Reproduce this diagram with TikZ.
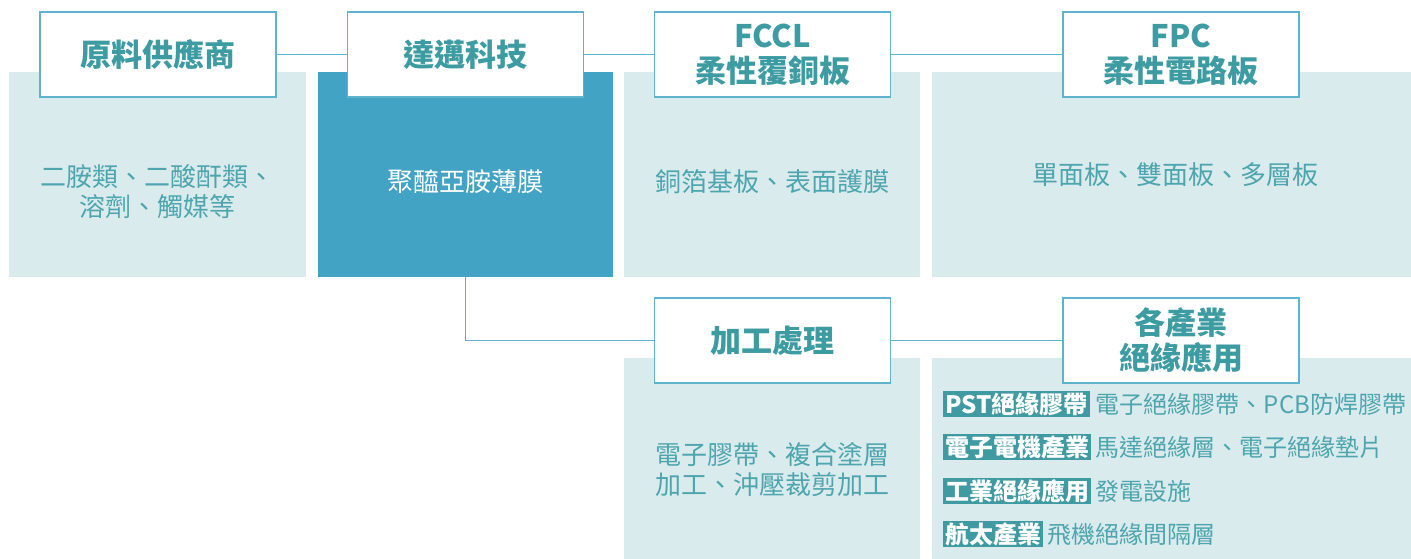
\documentclass[tikz,border=0pt]{standalone}
\usepackage{fontspec}
\setmainfont{Noto Sans CJK TC}
\usetikzlibrary{positioning}

\definecolor{paleteal}{HTML}{D9EBED}
\definecolor{deepblue}{HTML}{43A3C4}
\definecolor{lineblue}{HTML}{5FB3CC}
\definecolor{titleteal}{HTML}{3D9BA2}
\definecolor{bodyteal}{HTML}{4EA5AD}
\definecolor{tagteal}{HTML}{3F9AA1}

\tikzset{
	panel/.style={fill=paleteal, inner sep=0pt},
	titlebox/.style={draw=lineblue, line width=1.5pt, fill=white, minimum width=236pt, minimum height=85pt, align=center, text=titleteal, font=\fontsize{31}{35}\selectfont\bfseries},
	bodytext/.style={text=bodyteal, align=center, font=\fontsize{26}{30}\selectfont},
	tag/.style={fill=tagteal, text=white, inner xsep=2pt, inner ysep=1.5pt, font=\fontsize{24}{26}\selectfont\bfseries},
	rowtext/.style={text=bodyteal, inner xsep=0pt, font=\fontsize{24}{26}\selectfont},
	link/.style={draw=lineblue, line width=1.5pt}
}

\begin{document}
\begin{tikzpicture}[x=1pt, y=-1pt]

			\useasboundingbox (0,0) rectangle (1411,559);

			\node[panel, minimum width=297pt, minimum height=205pt] (p1) at (157.5,174.5) {};
			\node[panel, fill=deepblue, minimum width=295pt, minimum height=205pt] (p2) at (465.5,174.5) {};
			\node[panel, minimum width=296pt, minimum height=205pt] (p3) at (772,174.5) {};
			\node[panel, minimum width=479pt, minimum height=205pt] (p4) at (1171.5,174.5) {};

			\node[panel, minimum width=296pt, minimum height=201pt] (p5) at (772,458.5) {};
			\node[panel, minimum width=479pt, minimum height=201pt] (p6) at (1171.5,458.5) {};

			\node[titlebox] (supplier) at (158,54.5) {原料供應商};
			\node[titlebox] (taimide) at (465.5,54.5) {達邁科技};
			\node[titlebox] (fccl) at (772.5,54.5) {FCCL\\柔性覆銅板};
			\node[titlebox] (fpc) at (1181,54.5) {FPC\\柔性電路板};

			\node[titlebox] (process) at (772.5,340.5) {加工處理};
			\node[titlebox] (industry) at (1181,340.5) {各產業\\絕緣應用};

			\draw [link] (supplier.east) -- (taimide.west);
			\draw [link] (taimide.east) -- (fccl.west);
			\draw [link] (fccl.east) -- (fpc.west);

			\draw [link] (p2.south) |- (process.west);
			\draw [link] (process.east) -- (industry.west);

			\node[bodytext] (raw) at (157,192) {二胺類、二酸酐類、\\溶劑、觸媒等};
			\node[bodytext, text=white] (film) at (465.5,182) {聚醯亞胺薄膜};
			\node[bodytext] (ccl) at (772.5,182) {銅箔基板、表面護膜};
			\node[bodytext] (boards) at (1175,175) {單面板、雙面板、多層板};
			\node[bodytext] (work) at (772.5,470) {電子膠帶、複合塗層\\加工、沖壓裁剪加工};

			\node[tag, anchor=west] (pst) at (943,404) {PST絕緣膠帶};
			\node[rowtext, right=6pt of pst] (pstuse) {電子絕緣膠帶、PCB防焊膠帶};

			\node[tag, anchor=west] (elec) at (943,447) {電子電機產業};
			\node[rowtext, right=4pt of elec] (elecuse) {馬達絕緣層、電子絕緣墊片};

			\node[tag, anchor=west] (indus) at (943,491) {工業絕緣應用};
			\node[rowtext, right=4pt of indus] (indususe) {發電設施};

			\node[tag, anchor=west] (aero) at (943,534) {航太產業};
			\node[rowtext, right=4pt of aero] (aerouse) {飛機絕緣間隔層};

\end{tikzpicture}
\end{document}
